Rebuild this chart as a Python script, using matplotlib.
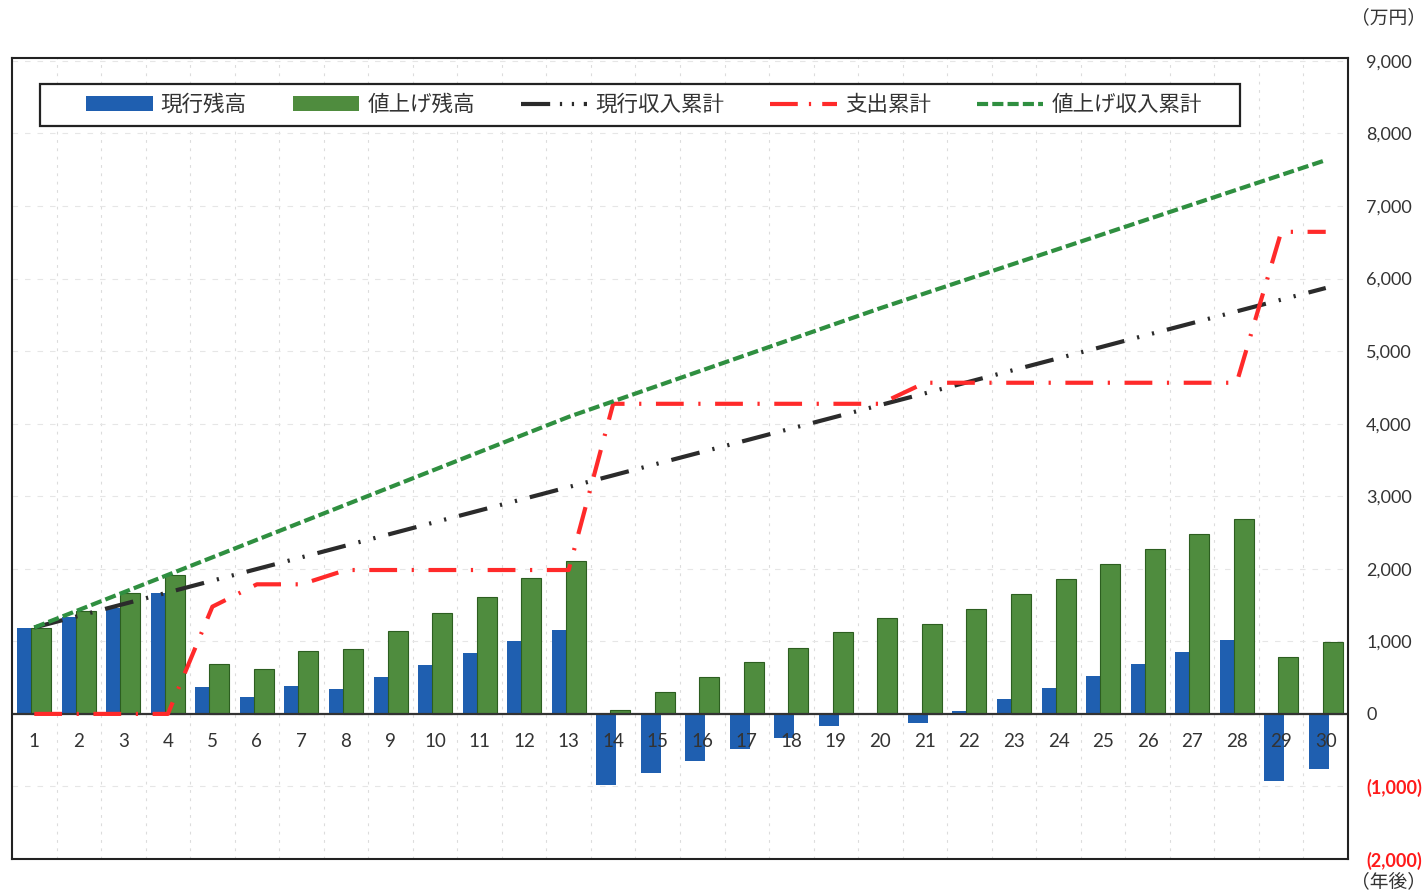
import numpy as np
import matplotlib
matplotlib.use("Agg")
import matplotlib.pyplot as plt
from matplotlib.patches import Patch, Rectangle
from matplotlib.lines import Line2D
from matplotlib.ticker import FuncFormatter

plt.rcParams['font.family'] = ['Noto Sans CJK JP', 'DejaVu Sans']
plt.rcParams['lines.scale_dashes'] = False

# ---------------- data (万円) ----------------
years = [str(i) for i in range(1, 31)]

current_balance = [1180, 1340, 1455, 1671, 372, 230, 390, 349, 514, 675,
                   836, 1001, 1157, -978, -817, -647, -486, -326, -161, -15,
                   -124, 37, 202, 362, 523, 684, 850, 1019, -919, -758]

raised_balance = [1189, 1423, 1671, 1915, 684, 624, 863, 900, 1143, 1387,
                  1616, 1869, 2107, 51, 299, 505, 712, 914, 1125, 1327,
                  1244, 1446, 1653, 1860, 2066, 2273, 2479, 2686, 789, 996]

current_income_cum = [1190, 1351, 1513, 1674, 1836, 1997, 2158, 2320, 2481, 2643,
                      2804, 2965, 3127, 3288, 3450, 3611, 3772, 3934, 4095, 4257,
                      4418, 4579, 4741, 4902, 5063, 5225, 5386, 5548, 5709, 5870]

expense_cum = [0, 0, 0, 0, 1478, 1786, 1786, 1983, 1983, 1983,
               1983, 1983, 1983, 4274, 4274, 4274, 4274, 4274, 4274, 4274,
               4564, 4564, 4564, 4564, 4564, 4564, 4564, 4564, 6644, 6644]

raised_income_cum = [1190, 1432, 1674, 1916, 2158, 2400, 2642, 2884, 3126, 3368,
                     3610, 3852, 4094, 4308, 4522, 4736, 4950, 5164, 5378, 5592,
                     5796, 6000, 6204, 6408, 6612, 6816, 7020, 7224, 7428, 7632]

series_names = ['現行残高', '値上げ残高', '現行収入累計', '支出累計', '値上げ収入累計']
y_ticks = [-2000, -1000, 0, 1000, 2000, 3000, 4000, 5000, 6000, 7000, 8000, 9000]

# ---------------- styles ----------------
C_BLUE = '#1f5fb0'
C_GREEN_BAR = '#4f8c3e'
C_GREEN_EDGE = '#2c5e20'
C_BLACK = '#2b2b2b'
C_RED = '#ff2a2a'
C_GREEN_LINE = '#2f8f40'

ls_black = (0, (21, 9.5, 1.6, 9.5, 1.6, 9.5))
ls_red = (0, (20, 10.5, 1.6, 10.5))
ls_green = (0, (8, 3))

fig = plt.figure(figsize=(14.28, 8.96), dpi=100)
ax = fig.add_axes([12 / 1428, 1 - 859 / 896, (1348 - 12) / 1428, (859 - 58) / 896])

x = np.arange(len(years))
bw = 0.45
off = 0.157

ax.bar(x - off, current_balance, width=bw, color=C_BLUE, zorder=2)
ax.bar(x + off, raised_balance, width=bw, color=C_GREEN_BAR,
       edgecolor=C_GREEN_EDGE, linewidth=0.8, zorder=2.1)

ax.axhline(0, color='#333333', lw=1.6, zorder=2.5)

lw = 3.0
ax.plot(x, current_income_cum, color=C_BLACK, lw=lw, linestyle=ls_black, zorder=4)
ax.plot(x, expense_cum, color=C_RED, lw=lw, linestyle=ls_red, zorder=4.1)
ax.plot(x, raised_income_cum, color=C_GREEN_LINE, lw=lw, linestyle=ls_green, zorder=4.2)

ax.set_xlim(-0.5, len(years) - 0.5)
ax.set_ylim(-2000, 9040)

# grid
for b in np.arange(0.5, len(years) - 0.5, 1.0):
    ax.axvline(b, color='#dcdcdc', lw=0.8, linestyle=(0, (2, 4)), zorder=0.5)
for t in y_ticks:
    ax.axhline(t, color='#e6e6e6', lw=0.8, linestyle=(0, (4, 5)), zorder=0.5)

# x category labels inside plot just below zero line
ax.set_xticks([])
for xi, lab in zip(x, years):
    ax.annotate(lab, xy=(xi, 0), xytext=(0, -20), textcoords='offset points',
                ha='center', va='center', fontsize=13.5, family='Lato',
                color='#333333', zorder=5)

# right y-axis
ax.yaxis.tick_right()
ax.set_yticks(y_ticks)
ax.yaxis.set_major_formatter(FuncFormatter(
    lambda v, p: f"{v:,.0f}" if v >= 0 else f"({-v:,.0f})"))
ax.tick_params(axis='y', length=0, pad=13, labelsize=13)
for lab, t in zip(ax.get_yticklabels(), y_ticks):
    lab.set_family('Lato')
    if t < 0:
        lab.set_color('#ff1a1a')
        lab.set_fontweight('bold')
    else:
        lab.set_color('#333333')

for s in ax.spines.values():
    s.set_color('#222222')
    s.set_linewidth(1.5)

# units
fig.text(1388 / 1428, 1 - 18 / 896, '（万円）', ha='center', va='center',
         fontsize=13.5, color='#333333')
fig.text(1388 / 1428, 1 - 882 / 896, '（年後）', ha='center', va='center',
         fontsize=13.5, color='#333333')

# legend frame
fig.patches.append(Rectangle((40 / 1428, 1 - 126 / 896), 1200 / 1428, 42 / 896,
                             transform=fig.transFigure, facecolor='white',
                             edgecolor='#222222', lw=1.6, zorder=6))

handles = [
    Patch(facecolor=C_BLUE, edgecolor='none'),
    Patch(facecolor=C_GREEN_BAR, edgecolor='none'),
    Line2D([], [], color=C_BLACK, lw=lw, linestyle=(0, (21, 7, 1.6, 7, 1.6, 7))),
    Line2D([], [], color=C_RED, lw=lw, linestyle=(0, (20, 8, 1.6, 8))),
    Line2D([], [], color=C_GREEN_LINE, lw=lw, linestyle=ls_green),
]
fs = 15.5
leg = fig.legend(handles, series_names, ncol=5,
                 bbox_to_anchor=(644 / 1428, 1 - 105 / 896), loc='center',
                 fontsize=fs, handlelength=48 / fs, handleheight=0.65,
                 handletextpad=5.8 / fs, columnspacing=33 / fs,
                 frameon=False, borderpad=0.2)
leg.set_zorder(7)
for t in leg.get_texts():
    t.set_color('#333333')

fig.savefig('out.png', dpi=100)
